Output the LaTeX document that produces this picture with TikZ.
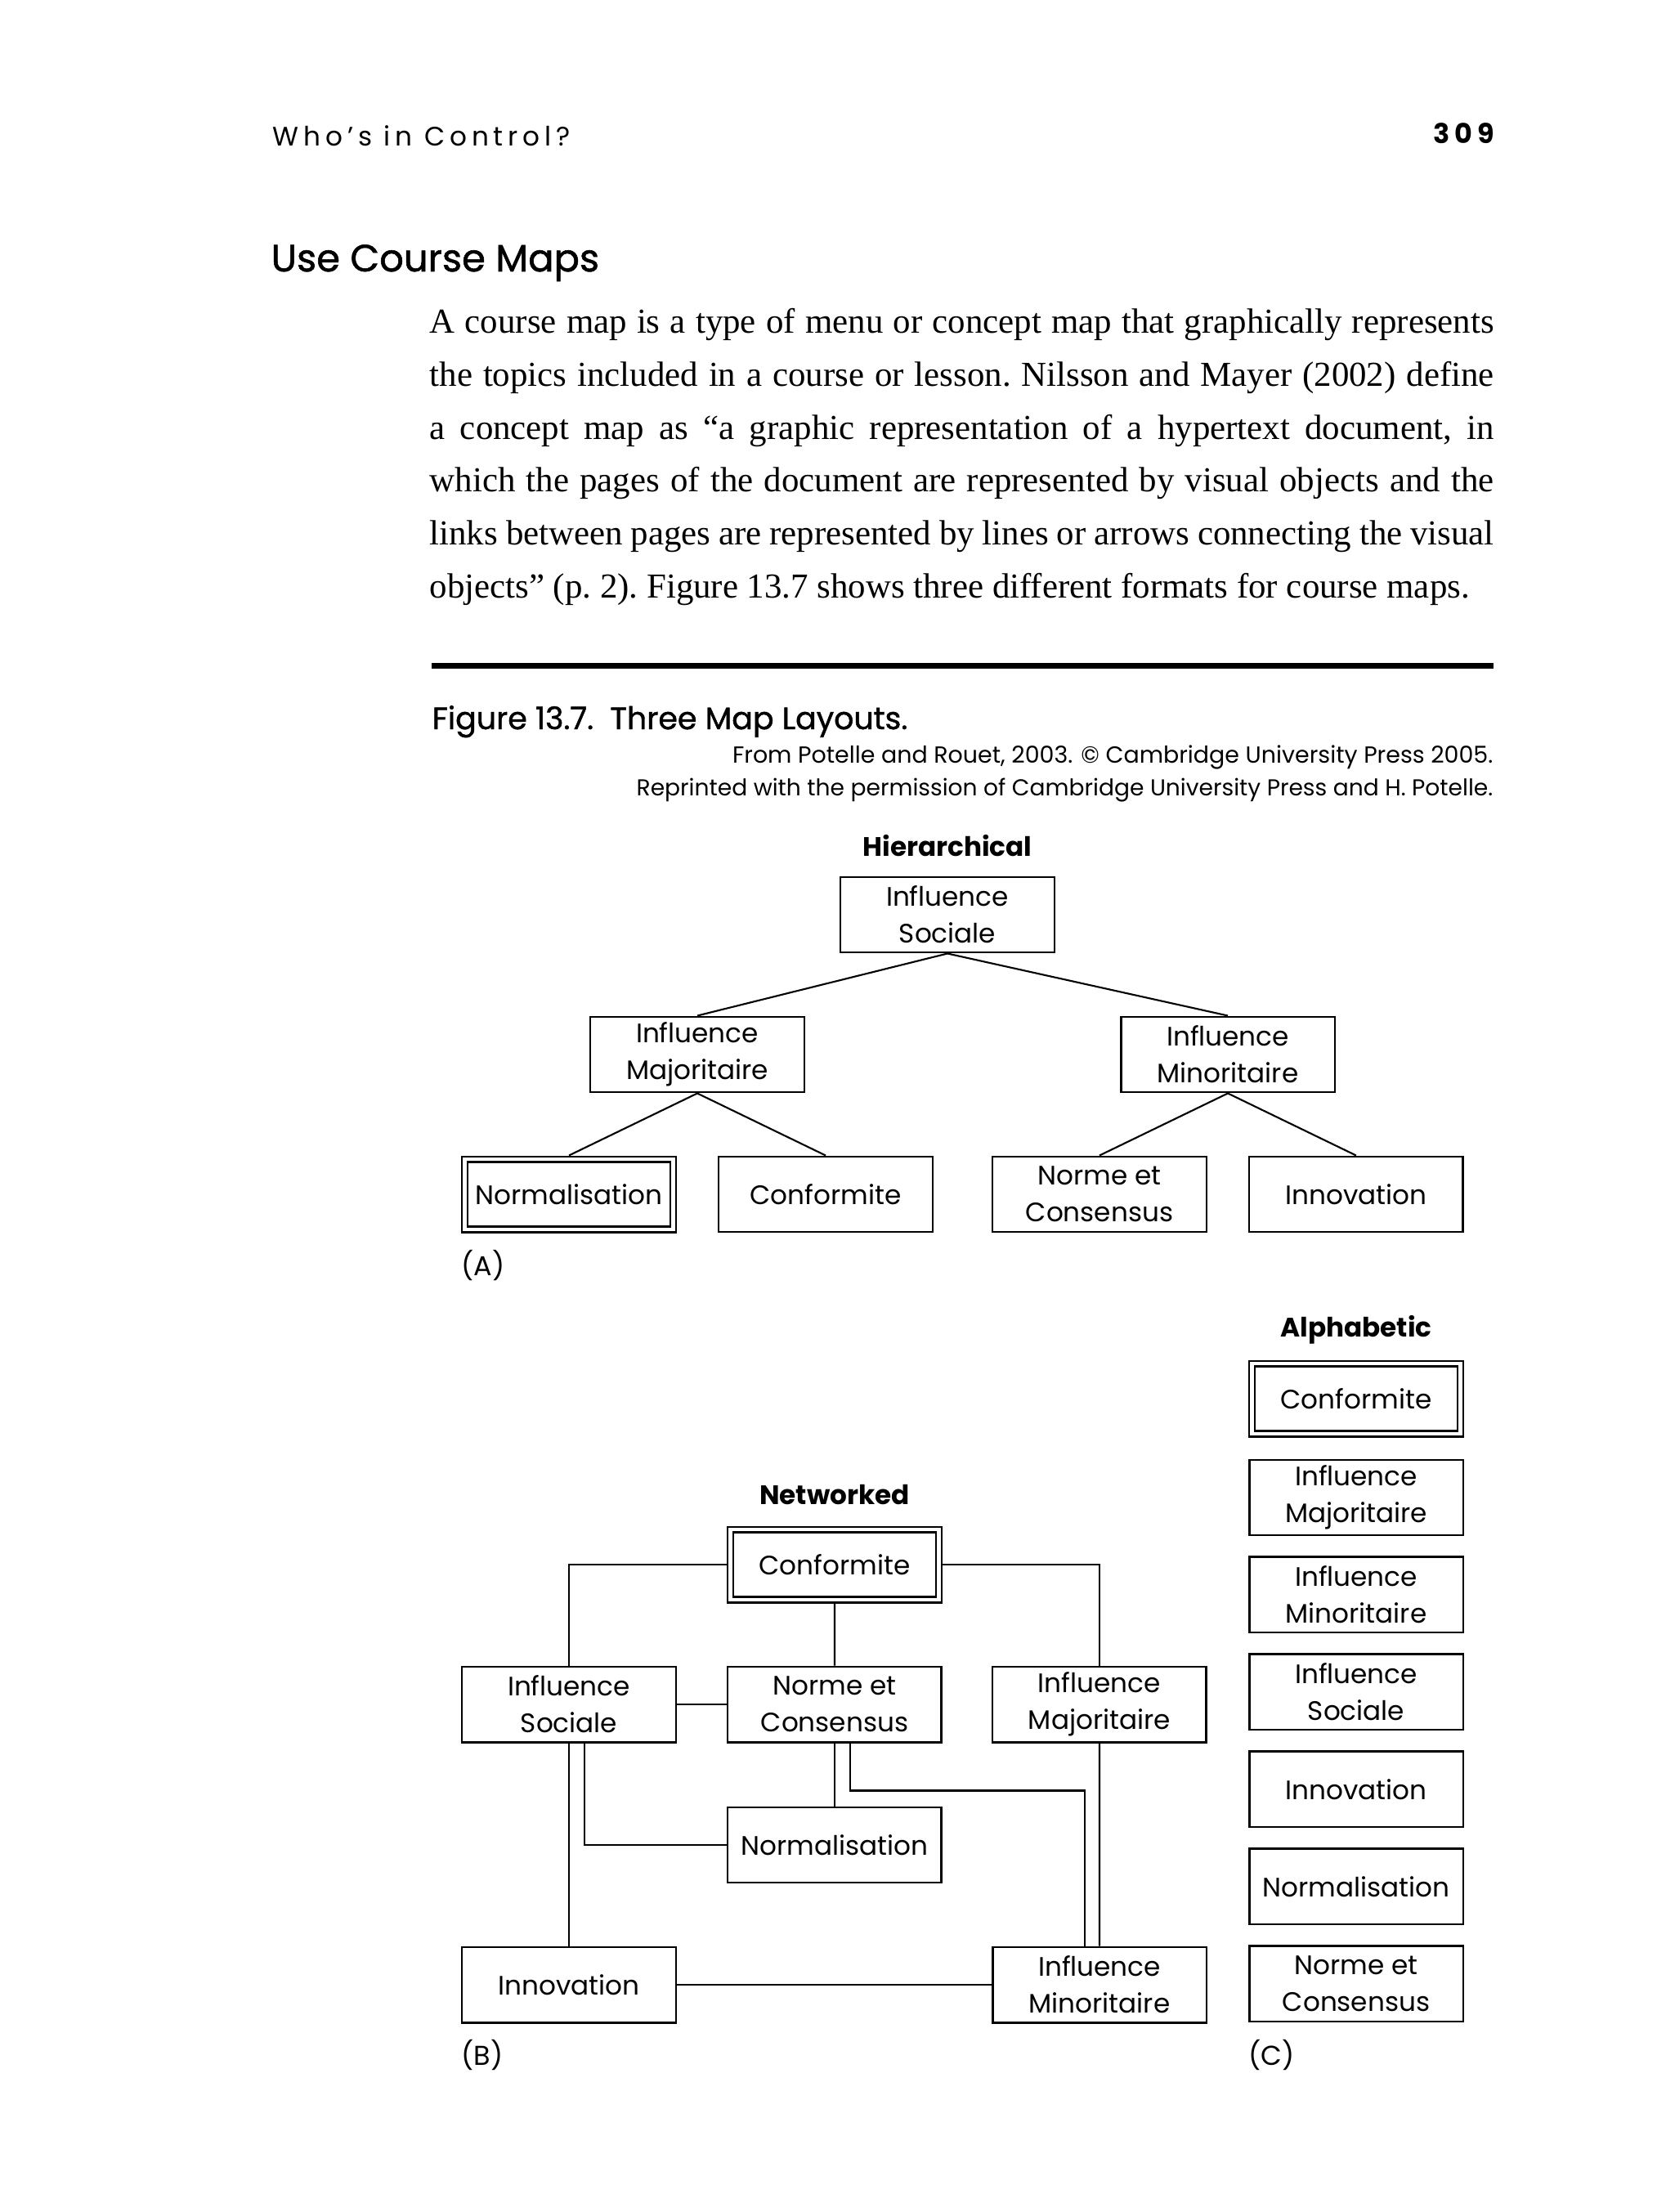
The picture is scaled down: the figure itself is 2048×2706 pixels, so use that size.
\documentclass[tikz,border=0pt]{standalone}
\usepackage{fontspec}
\setmainfont{Liberation Serif}
\newfontfamily\fut{Poppins}
\newfontfamily\futmed[FakeBold=1.2]{Poppins}
\newfontfamily\runfont[LetterSpace=18]{Poppins}
\usetikzlibrary{positioning}

\begin{document}
\begin{tikzpicture}[x=0.1mm,y=-0.1mm,
  box/.style={draw,line width=0.7pt,minimum width=26.15mm,minimum height=9.25mm,inner sep=0pt,align=center,font=\fut\fontsize{9.3}{12.8}\selectfont},
  dbl/.style={box,double,double distance=0.45mm,minimum width=25.46mm,minimum height=8.56mm,outer sep=0.47mm},
  ttl/.style={font=\fut\bfseries\fontsize{9.3}{11}\selectfont},
  tag/.style={anchor=west,inner sep=0pt,font=\fut\fontsize{9.5}{11}\selectfont},
  ln/.style={line width=0.6pt}]
\fill[white] (0,0) rectangle (2048,2706);
\useasboundingbox (0,0) rectangle (2048,2706);

% page head and text
\node[anchor=base west,inner sep=0pt,font=\runfont\fontsize{9.3}{11}\selectfont] (runhead) at (333,179) {Who’s in Control?};
\node[anchor=base east,inner sep=0pt,font=\runfont\bfseries\fontsize{9.5}{11}\selectfont] (folio) at (1829,176) {309};
\node[anchor=base west,inner sep=0pt,font=\futmed\fontsize{13.2}{15}\selectfont] (sect) at (331,332) {Use Course Maps};
\node[anchor=north west,inner sep=0pt,text width=130.2mm,align=justify,
  font=\fontsize{12.2}{18.4}\selectfont] (body) at (525,377)
  {\frenchspacing\tolerance=9999\hyphenpenalty=10000\relax
   A course map is a type of menu or concept map that graphically represents\linebreak
   the topics included in a course or lesson. Nilsson and Mayer (2002) define\linebreak
   a concept map as “a graphic representation of a hypertext document, in\linebreak
   which the pages of the document are represented by visual objects and the\linebreak
   links between pages are represented by lines or arrows connecting the visual\linebreak
   objects” (p.~2). Figure 13.7 shows three different formats for course maps.};
\draw[line width=0.7mm] (528,814) -- (1827,814);
\node[anchor=base west,inner sep=0pt,font=\futmed\fontsize{10.8}{12}\selectfont] (cap) at (528,892) {Figure 13.7.\ \ Three Map Layouts.};
\node[anchor=base east,inner sep=0pt,font=\fut\fontsize{8.1}{10}\selectfont] (cred1) at (1827,933) {From Potelle and Rouet, 2003. © Cambridge University Press 2005.};
\node[anchor=base east,inner sep=0pt,font=\fut\fontsize{8}{10}\selectfont] (cred2) at (1827,973) {Reprinted with the permission of Cambridge University Press and H. Potelle.};

% (A) hierarchical
\node[ttl] (thier) at (1159,1035) {Hierarchical};
\node[box] (hs) at (1159,1119) {Influence\\Sociale};
\node[box] (hmaj) at (853,1290) {Influence\\Majoritaire};
\node[box] (hmin) at (1502,1290) {Influence\\Minoritaire};
\node[dbl] (hnorm) at (696,1461) {Normalisation};
\node[box] (hconf) at (1010,1461) {Conformite};
\node[box,right=7.1mm of hconf] (hnc) {Norme et\\Consensus};
\node[box,right=5mm of hnc] (hinn) {Innovation};
\foreach \a/\b in {hs/hmaj,hs/hmin,hmaj/hnorm,hmaj/hconf,hmin/hnc,hmin/hinn}
  \draw[ln] (\a.south) -- (\b.north);
\node[tag] (la) at (564,1548) {(A)};

% (C) alphabetic
\node[ttl] (talpha) at (1659,1627) {Alphabetic};
\node[dbl] (aconf) at (1659,1711) {Conformite};
\node[box,below=2.6mm of aconf] (amaj) {Influence\\Majoritaire};
\node[box,below=2.4mm of amaj] (amin) {Influence\\Minoritaire};
\node[box,below=2.4mm of amin] (asoc) {Influence\\Sociale};
\node[box,below=2.4mm of asoc] (ainn) {Innovation};
\node[box,below=2.4mm of ainn] (anorm) {Normalisation};
\node[box,below=2.4mm of anorm] (anc) {Norme et\\Consensus};
\node[tag] (lc) at (1527,2514) {(C)};

% (B) networked
\node[ttl] (tnet) at (1021,1829) {Networked};
\node[dbl] (nconf) at (1021,1914) {Conformite};
\node[box] (nsoc) at (696,2085) {Influence\\Sociale};
\node[box,right=6.1mm of nsoc] (nnc) {Norme et\\Consensus};
\node[box,right=6mm of nnc] (nmaj) {Influence\\Majoritaire};
\node[box,below=7.7mm of nnc] (nnorm) {Normalisation};
\node[box] (ninn) at (696,2428) {Innovation};
\node[box] (nmin) at (1345,2428) {Influence\\Minoritaire};
\draw[ln] (nconf.west) -| (nsoc.north);
\draw[ln] (nconf.east) -| (nmaj.north);
\foreach \a/\b in {nconf/nnc,nsoc/nnc,nsoc/ninn,nnc/nnorm,nmaj/nmin,ninn/nmin}
  \draw[ln] (\a) -- (\b);
\draw[ln] ([xshift=1.9mm]nsoc.south) |- (nnorm.west);
\draw[ln] ([xshift=1.9mm]nnc.south) -- ++(0,58) -| ([xshift=-1.8mm]nmin.north);
\node[tag] (lb) at (564,2514) {(B)};
\end{tikzpicture}
\end{document}
